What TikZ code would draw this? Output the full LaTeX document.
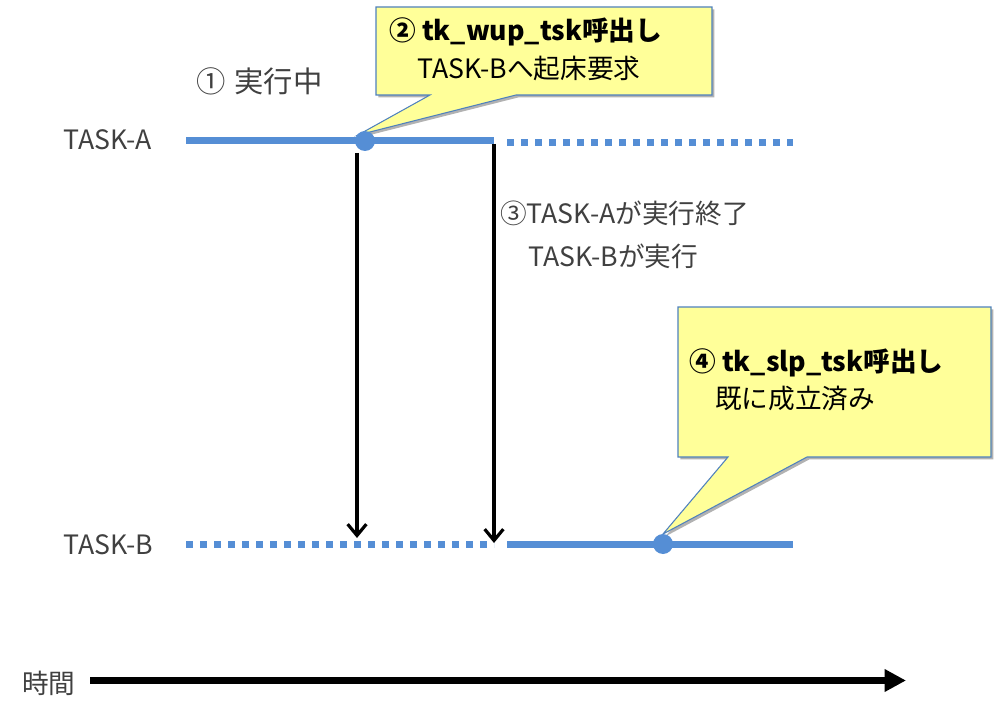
\documentclass[tikz,border=0pt]{standalone}
\usepackage{fontspec}
\setmainfont{Noto Sans CJK JP}
\usetikzlibrary{arrows.meta,shadows}
\definecolor{tblue}{HTML}{558ED5}
\definecolor{tgray}{HTML}{404040}
\definecolor{cfill}{HTML}{FFFF99}
\definecolor{cborder}{HTML}{4F81BD}
\begin{document}
\begin{tikzpicture}[x=0.75pt,y=-0.75pt,
  lbl/.style={inner sep=0pt,anchor=west,text=tgray,font=\fontsize{20}{24}\selectfont},
  ctext/.style={inner sep=0pt,anchor=west,text=black,font=\fontsize{20}{24}\selectfont},
  runline/.style={draw=tblue,line width=5.25pt},
  waitline/.style={draw=tblue,line width=5.25pt,dash pattern=on 5.25pt off 5.25pt},
  dotnode/.style={circle,fill=tblue,minimum size=15pt,inner sep=0pt},
  callout/.style={fill=cfill,draw=cborder,line width=0.8pt,line join=miter,
    drop shadow={shadow xshift=1.8pt,shadow yshift=-1.8pt,fill=black,opacity=0.3}},
  sig/.style={draw=black,line width=2.4pt,-{Straight Barb[length=8.5pt,width=14pt,line width=2.4pt]}},
  timearrow/.style={draw=black,line width=5.25pt,-{Triangle[length=16pt,width=16pt]}}
]
\useasboundingbox (0,0) rectangle (1000,713);

% labels
\node[lbl] (ta) at (63,140) {TASK-A};
\node[lbl] (tb) at (63,545) {TASK-B};
\node[lbl,font=\fontsize{22}{26}\selectfont] (run) at (196,81) {①\hspace{0.3em}実行中};
\node[lbl] (s3a) at (500,213) {③TASK-Aが実行終了};
\node[lbl] (s3b) at (528,256) {TASK-Bが実行};
\node[lbl] (tm) at (22,683) {時間};

% coordinates on the time lines
\coordinate (aS) at (186,140.5);
\coordinate (aE) at (494,140.5);
\coordinate (aW) at (507,143);
\coordinate (aF) at (793,143);
\coordinate (bS) at (186,544);
\coordinate (bE) at (494,544);
\coordinate (bR) at (507,544);
\coordinate (bF) at (793,544);

\path[runline] (aS) -- (aE);
\path[waitline] (aW) -- (aF);
\path[waitline] (bS) -- (bE);
\path[runline] (bR) -- (bF);

% callouts
\path[callout] (376,7) -- (712,7) -- (712,95) -- (516,95) -- (358,135) -- (430,95) -- (376,95) -- cycle;
\path[callout] (678,307) -- (991,307) -- (991,457) -- (807,457) -- (663,534) -- (728,457) -- (678,457) -- cycle;

\node[dotnode] (wa) at (365,141) {};
\node[dotnode] (wb) at (663,544) {};

\node[ctext,font=\fontsize{20}{24}\selectfont\bfseries] (c1a) at (389,32) {② tk\_wup\_tsk呼出し};
\node[ctext] (c1b) at (417,68) {TASK-Bへ起床要求};
\node[ctext,font=\fontsize{20}{24}\selectfont\bfseries] (c2a) at (689,363) {④ tk\_slp\_tsk呼出し};
\node[ctext] (c2b) at (715,398) {既に成立済み};

% signal arrows
\coordinate (u1) at (357,153);
\coordinate (d1) at (357,538);
\coordinate (u2) at (494,144);
\coordinate (d2) at (494,543);
\draw[sig] (u1) -- (d1);
\draw[sig] (u2) -- (d2);

% time arrow
\coordinate (t0) at (90,680.5);
\coordinate (t1) at (906,680.5);
\draw[timearrow] (t0) -- (t1);
\end{tikzpicture}
\end{document}
